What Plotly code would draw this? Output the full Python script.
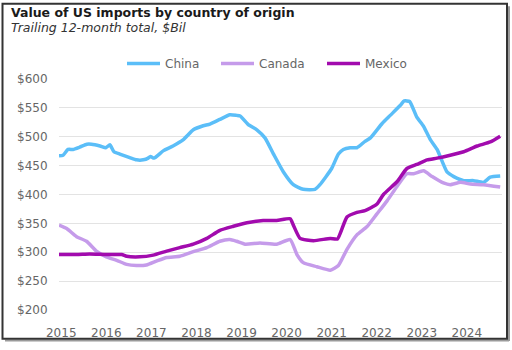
import plotly.graph_objects as go

# ---- data (x in decimal years, values in $Bil) ----
china_x = [2014.95, 2015.04, 2015.15, 2015.26, 2015.41, 2015.57, 2015.67, 2015.86, 2015.99, 2016.08,
           2016.17, 2016.30, 2016.52, 2016.67, 2016.82, 2016.93, 2016.98, 2017.06, 2017.27, 2017.48,
           2017.71, 2017.93, 2018.15, 2018.30, 2018.52, 2018.74, 2018.89, 2018.97, 2019.15, 2019.34,
           2019.52, 2019.71, 2019.93, 2020.15, 2020.37, 2020.63, 2020.74, 2021.00, 2021.15, 2021.26,
           2021.41, 2021.56, 2021.74, 2021.86, 2022.12, 2022.30, 2022.52, 2022.61, 2022.73, 2022.89,
           2023.04, 2023.19, 2023.34, 2023.56, 2023.71, 2023.93, 2024.15, 2024.37, 2024.52, 2024.74]
china_y = [467, 468, 478, 478, 482, 487, 487, 484, 481, 486,
           474, 470, 464, 460, 460, 463, 466, 463, 476, 484,
           495, 512, 519, 522, 530, 538, 537, 536, 521, 512,
           498, 470, 439, 417, 409, 409, 417, 445, 470, 478,
           481, 481, 492, 498, 523, 537, 554, 562, 561, 534,
           518, 495, 478, 439, 431, 424, 424, 421, 430, 432]

canada_x = [2014.95, 2015.12, 2015.34, 2015.56, 2015.78, 2016.00, 2016.23, 2016.45, 2016.67, 2016.89,
            2017.12, 2017.34, 2017.63, 2017.93, 2018.23, 2018.52, 2018.74, 2018.89, 2019.08, 2019.41,
            2019.78, 2020.08, 2020.23, 2020.37, 2020.67, 2020.97, 2021.15, 2021.34, 2021.56, 2021.78,
            2022.00, 2022.23, 2022.45, 2022.67, 2022.82, 2023.04, 2023.23, 2023.48, 2023.63, 2023.86,
            2024.08, 2024.37, 2024.74]
canada_y = [347, 341, 327, 319, 302, 292, 286, 279, 277, 278,
            285, 291, 293, 301, 308, 319, 322, 319, 314, 316,
            314, 322, 296, 282, 275, 269, 277, 305, 330, 344,
            366, 389, 414, 436, 436, 441, 431, 420, 417, 421,
            418, 417, 413]

mexico_x = [2014.95, 2015.34, 2015.63, 2016.00, 2016.34, 2016.45, 2016.74, 2017.04, 2017.34, 2017.63,
            2017.93, 2018.23, 2018.52, 2018.82, 2019.12, 2019.48, 2019.78, 2020.08, 2020.15, 2020.30,
            2020.60, 2020.97, 2021.13, 2021.34, 2021.56, 2021.74, 2022.00, 2022.15, 2022.45, 2022.67,
            2022.89, 2023.12, 2023.34, 2023.63, 2023.93, 2024.23, 2024.52, 2024.74]
mexico_y = [296, 296, 297, 296, 296, 293, 292, 295, 302, 308,
            314, 324, 338, 345, 351, 355, 355, 358, 347, 324,
            320, 324, 323, 361, 369, 372, 383, 400, 422, 445,
            452, 460, 463, 468, 474, 484, 491, 501]

year_ticks = [2015, 2016, 2017, 2018, 2019, 2020, 2021, 2022, 2023, 2024]
dollar_ticks = [200, 250, 300, 350, 400, 450, 500, 550, 600]

title_text = "Value of US imports by country of origin"
subtitle_text = "Trailing 12-month total, $Bil"

# ---- layout geometry ----
W, H = 512, 350
L, R, T, B = 59, 10, 79, 33
PW, PH = W - L - R, H - T - B


def px(x):
    return (x - L) / PW


def py(y):
    return (H - B - y) / PH


FONT = "DejaVu Sans, Verdana, sans-serif"

fig = go.Figure()
series = [
    ("China", china_x, china_y, "#5BBEF8", "legend", 127),
    ("Canada", canada_x, canada_y, "#C59BEA", "legend2", 221),
    ("Mexico", mexico_x, mexico_y, "#A20BAE", "legend3", 327),
]
legends = {}
for name, xs, ys, col, leg, lx in series:
    fig.add_trace(go.Scatter(x=xs, y=ys, name=name, mode="lines", legend=leg,
                             line=dict(color=col, width=3.5, shape="spline", smoothing=0.5)))
    legends[leg] = dict(orientation="h", x=px(lx - 5), xanchor="left", y=py(63), yanchor="middle",
                        font=dict(size=12, color="#666666"), bgcolor="rgba(0,0,0,0)",
                        itemwidth=33, borderwidth=0)

fig.update_layout(
    width=W, height=H,
    margin=dict(l=L, r=R, t=T, b=B),
    paper_bgcolor="white", plot_bgcolor="white",
    font=dict(family=FONT, size=12, color="#666666"),
    showlegend=True,
    **legends,
    xaxis=dict(range=[2014.95, 2024.78], tickvals=year_ticks, ticktext=[str(v) for v in year_ticks],
               showgrid=False, zeroline=False, showline=False,
               ticks="outside", ticklen=12, tickcolor="rgba(0,0,0,0)",
               tickfont=dict(size=12, color="#666666")),
    yaxis=dict(range=[200, 600], tickvals=dollar_ticks, ticktext=["$" + str(v) for v in dollar_ticks],
               showgrid=True, gridcolor="#E3E3E3", gridwidth=1, zeroline=False, showline=False,
               ticks="outside", ticklen=8, tickcolor="rgba(0,0,0,0)",
               tickfont=dict(size=12, color="#666666")),
    annotations=[
        dict(text="<b>" + title_text + "</b>", x=px(9), y=py(11), xref="paper", yref="paper",
             xanchor="left", yanchor="middle", showarrow=False,
             font=dict(family=FONT, size=12.5, color="#1a1a1a")),
        dict(text="<i>" + subtitle_text + "</i>", x=px(9), y=py(25.5), xref="paper", yref="paper",
             xanchor="left", yanchor="middle", showarrow=False,
             font=dict(family=FONT, size=12.5, color="#333333")),
    ],
    shapes=[
        dict(type="line", xref="paper", yref="paper", x0=px(509), x1=px(509), y0=py(4), y1=py(349),
             line=dict(color="#9a9a9a", width=2)),
        dict(type="line", xref="paper", yref="paper", x0=px(5), x1=px(509), y0=py(348.5), y1=py(348.5),
             line=dict(color="#9a9a9a", width=2)),
        dict(type="rect", xref="paper", yref="paper", x0=px(2.5), x1=px(507), y0=py(346.5), y1=py(1.5),
             line=dict(color="#333333", width=2)),
    ],
)

fig.write_html("out.html")
